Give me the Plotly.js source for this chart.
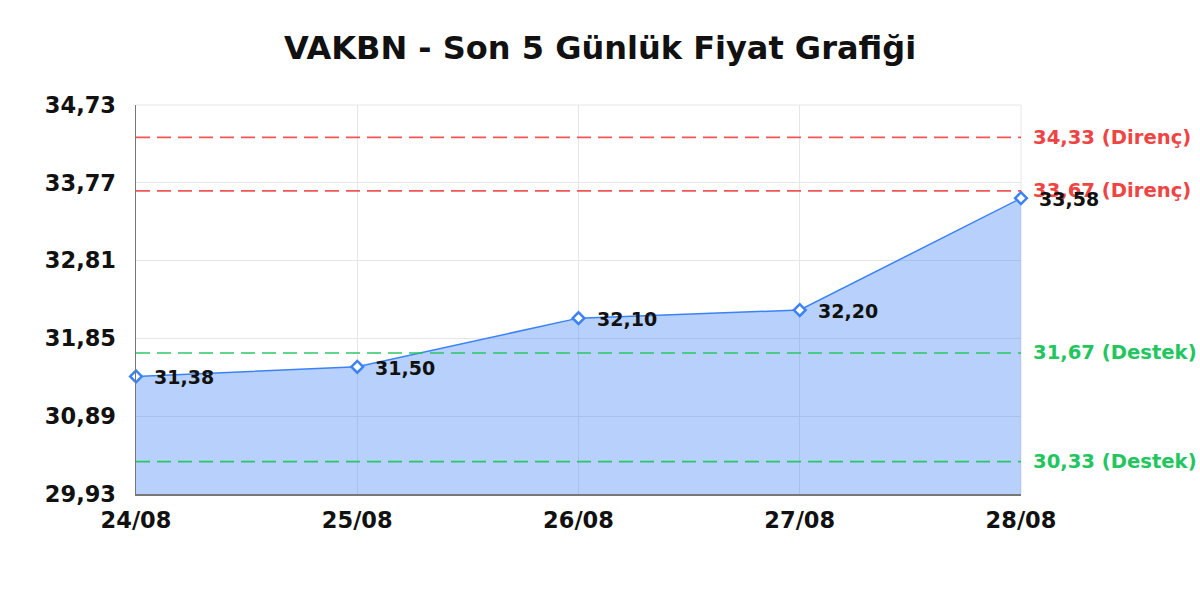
<!DOCTYPE html>
<html>
<head>
<meta charset="utf-8">
<script src="https://cdn.plot.ly/plotly-3.0.1.min.js"></script>
<style>html,body{margin:0;padding:0;background:#fff;}#chart{width:1200px;height:600px;}</style>
</head>
<body>
<div id="chart"></div>
<script>
const dates = ['24/08', '25/08', '26/08', '27/08', '28/08'];
const prices = [31.38, 31.50, 32.10, 32.20, 33.58];
const priceLabels = ['31,38', '31,50', '32,10', '32,20', '33,58'];
const yTickVals = [29.93, 30.89, 31.85, 32.81, 33.77, 34.73];
const yTickText = ['29,93', '30,89', '31,85', '32,81', '33,77', '34,73'];
const levelValues = [34.33, 33.67, 31.67, 30.33];
const levelLabels = ['34,33 (Direnç)', '33,67 (Direnç)', '31,67 (Destek)', '30,33 (Destek)'];
const levelKinds = ['resistance', 'resistance', 'support', 'support'];

const FONT = 'DejaVu Sans, Verdana, sans-serif';
const kindLineColor = {resistance: 'rgba(239,68,68,0.9)', support: 'rgba(34,197,94,0.95)'};
const kindTextColor = {resistance: '#ef4444', support: '#22c55e'};

const trace = {
  type: 'scatter',
  mode: 'lines+markers',
  x: dates,
  y: prices,
  fill: 'tozeroy',
  fillcolor: 'rgba(59,130,246,0.37)',
  line: {color: '#3b82f6', width: 1.5},
  marker: {symbol: 'diamond', size: 9, color: '#ffffff', line: {color: '#3b82f6', width: 2.5}},
  hoverinfo: 'skip',
  cliponaxis: false
};

const shapes = levelValues.map((v, i) => ({
  type: 'line', xref: 'paper', x0: 0, x1: 1, yref: 'y', y0: v, y1: v,
  line: {color: kindLineColor[levelKinds[i]], width: 1.6, dash: '14px,7px'},
  layer: 'above'
}));
shapes.push({type: 'line', xref: 'paper', x0: 0, x1: 1, yref: 'paper', y0: 1, y1: 1, line: {color: '#e6e6e6', width: 1}, layer: 'below'});
shapes.push({type: 'line', xref: 'paper', x0: 1, x1: 1, yref: 'paper', y0: 0, y1: 1, line: {color: '#e6e6e6', width: 1}, layer: 'below'});

const annotations = levelValues.map((v, i) => ({
  xref: 'paper', x: 1, yref: 'y', y: v, xanchor: 'left', yanchor: 'middle',
  xshift: 10, showarrow: false, text: levelLabels[i],
  font: {family: FONT, size: 19.6, color: kindTextColor[levelKinds[i]], weight: 'bold'}
})).concat(prices.map((p, i) => ({
  xref: 'x', x: dates[i], yref: 'y', y: p, xanchor: 'left', yanchor: 'middle',
  xshift: 16, yshift: -1, showarrow: false, text: priceLabels[i],
  font: {family: FONT, size: 19, color: '#111111', weight: 'bold'}
})));

const layout = {
  width: 1200, height: 600,
  paper_bgcolor: '#ffffff', plot_bgcolor: '#ffffff',
  margin: {l: 136, r: 179, t: 105, b: 106},
  showlegend: false,
  title: {text: 'VAKBN - Son 5 Günlük Fiyat Grafiği', x: 0.5, xanchor: 'center', y: 1 - 48 / 600, yanchor: 'middle', yref: 'container',
    font: {family: FONT, size: 32, color: '#111111', weight: 'bold'}},
  xaxis: {
    type: 'category', range: [0, dates.length - 1],
    showgrid: true, gridcolor: '#e6e6e6', gridwidth: 1,
    showline: true, linecolor: '#777777', linewidth: 1.5,
    ticks: '', ticklabelstandoff: 5,
    tickfont: {family: FONT, size: 22.5, color: '#111111', weight: 'bold'},
    zeroline: false, fixedrange: true
  },
  yaxis: {
    range: [yTickVals[0], yTickVals[yTickVals.length - 1]],
    tickmode: 'array', tickvals: yTickVals, ticktext: yTickText,
    showgrid: true, gridcolor: '#e6e6e6', gridwidth: 1,
    showline: true, linecolor: '#777777', linewidth: 1.5,
    ticks: '', ticklabelstandoff: 14,
    tickfont: {family: FONT, size: 22.5, color: '#111111', weight: 'bold'},
    zeroline: false, fixedrange: true
  },
  shapes: shapes,
  annotations: annotations
};

Plotly.newPlot('chart', [trace], layout, {displayModeBar: false, staticPlot: true});
</script>
</body>
</html>
